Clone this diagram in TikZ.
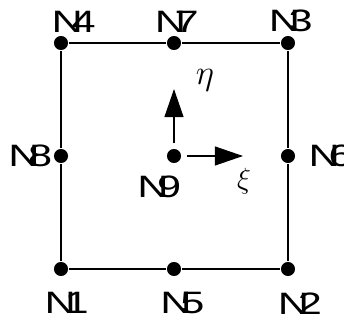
\documentclass[tikz,border=0pt]{standalone}
\usepackage{fontspec}
\newfontfamily\labfont[FakeStretch=1.4]{Liberation Sans}
\usetikzlibrary{positioning,arrows.meta}

\newcommand{\nname}[1]{N\kern-0.37em#1}

\begin{document}
\begin{tikzpicture}[
  x=0.025cm,y=-0.025cm,
  >={Triangle[length=20pt,width=13.5pt]},
  nd/.style={circle,fill=black,minimum size=10pt,inner sep=0pt,outer sep=1pt},
  nlab/.style={font=\labfont\fontsize{22}{26}\selectfont,inner sep=0pt},
  mlab/.style={inner sep=0pt},
  edge/.style={line width=0.9pt},
  axis/.style={->,line width=0.9pt,shorten <=3pt}
]
\useasboundingbox (0,0) rectangle (344,320);

% Corner, mid-side and centre nodes
\node[nd] (n1) at (61,269) {};
\node[nd] (n5) at (174,269) {};
\node[nd] (n2) at (288,269) {};
\node[nd] (n8) at (61,156) {};
\node[nd] (n9) at (174,156) {};
\node[nd] (n6) at (288,156) {};
\node[nd] (n4) at (61,43) {};
\node[nd] (n7) at (174,43) {};
\node[nd] (n3) at (288,43) {};

% Element edges
\draw[edge] (n1) -- (n5) -- (n2) -- (n6) -- (n3) -- (n7) -- (n4) -- (n8) -- (n1);

% Local axes
\coordinate (xitip) at (243,156);
\coordinate (etatip) at (174,89);
\draw[axis] (n9) -- (xitip);
\draw[axis] (n9) -- (etatip);
\node[mlab] (xi) at (244,181) {\fontsize{22}{26}\selectfont$\xi$};
\node[mlab] (eta) at (205,80) {\fontsize{25}{30}\selectfont$\eta$};

% Node labels
\node[nlab,above=1.5pt of n4,xshift=9pt] (l4) {\nname{4}};
\node[nlab,above=1.5pt of n7,xshift=2pt] (l7) {\nname{7}};
\node[nlab,above=1.5pt of n3,xshift=2pt] (l3) {\nname{3}};
\node[nlab,left=0pt of n8] (l8) {\nname{8}};
\node[nlab,right=8.5pt of n6] (l6) {\nname{6}};
\node[nlab,below=8pt of n9,xshift=-10.5pt] (l9) {\nname{9}};
\node[nlab,below=10.5pt of n1,xshift=4pt] (l1) {\nname{1}};
\node[nlab,below=10.5pt of n5,xshift=6pt] (l5) {\nname{5}};
\node[nlab,below=10.5pt of n2,xshift=8.5pt] (l2) {\nname{2}};

\end{tikzpicture}
\end{document}
